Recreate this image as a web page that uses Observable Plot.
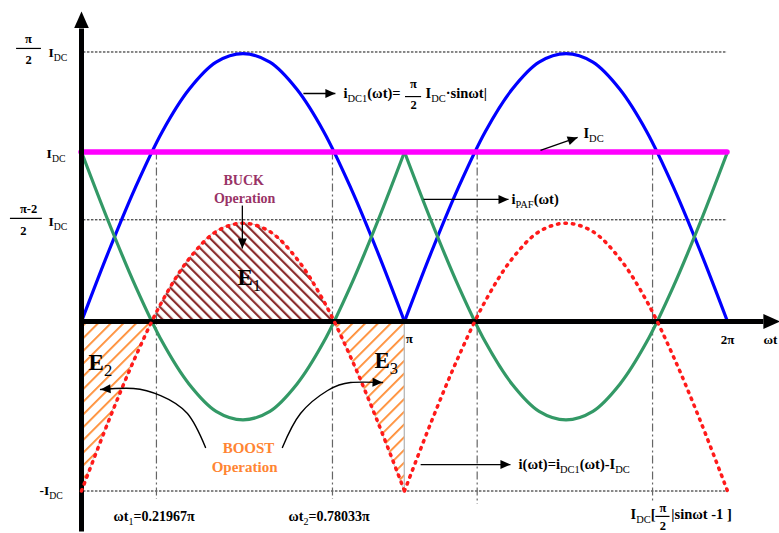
<!DOCTYPE html>
<html><head><meta charset="utf-8">
<script src="https://cdn.jsdelivr.net/npm/d3@7"></script>
<script src="https://cdn.jsdelivr.net/npm/@observablehq/plot@0.6"></script>
<style>body{margin:0;background:#fff}</style>
</head><body><div id="chart"></div>
<script>
// ωt in units of π, sampled every π/12
const wt = [0,0.0833,0.1667,0.25,0.3333,0.4167,0.5,0.5833,0.6667,0.75,0.8333,0.9167,1,
            1.0833,1.1667,1.25,1.3333,1.4167,1.5,1.5833,1.6667,1.75,1.8333,1.9167,2];
// i_DC1(ωt) (blue), in units of I_DC
const iDC1 = [0,0.41,0.79,1.12,1.37,1.53,1.58,1.53,1.37,1.12,0.79,0.41,0,
              0.41,0.79,1.12,1.37,1.53,1.58,1.53,1.37,1.12,0.79,0.41,0];
// i_PAF(ωt) (green)
const iPAF = [1,0.59,0.21,-0.12,-0.37,-0.53,-0.58,-0.53,-0.37,-0.12,0.21,0.59,1,
              0.59,0.21,-0.12,-0.37,-0.53,-0.58,-0.53,-0.37,-0.12,0.21,0.59,1];
// i(ωt) = i_DC1 - I_DC (red dotted)
const iDiff = [-1,-0.59,-0.21,0.12,0.37,0.53,0.58,0.53,0.37,0.12,-0.21,-0.59,-1,
               -0.59,-0.21,0.12,0.37,0.53,0.58,0.53,0.37,0.12,-0.21,-0.59,-1];
const idcLevel = [1];
const crossings = [0.21967, 0.78033];            // ωt1, ωt2 (×π)
const guideLevels = [1.59, 0.60, -1.0];           // π/2·I_DC, (π-2)/2·I_DC, -I_DC
const vLineAt = [0.232, 0.777, 1.225, 1.768];
const vLineEnd = [-1.05, -1.05, -1.08, -1.06];

// annotation texts (positions in data units: x in π, y in I_DC)
const leftText = ["I_{DC}", "I_{DC}", "I_{DC}", "-I_{DC}"];
const leftX = [-0.102, -0.108, -0.102, -0.130];
const leftY = [1.587, 0.991, 0.590, -0.997];
const fracText = ["π", "2", "π-2", "2", "π", "2", "π", "2"];
const fracX = [-0.164, -0.164, -0.164, -0.180, 1.028, 1.028, 1.800, 1.800];
const fracY = [1.664, 1.540, 0.661, 0.531, 1.404, 1.280, -1.100, -1.204];
const barX1 = [-0.201, -0.220, 1.003, 1.778];
const barX2 = [-0.124, -0.121, 1.053, 1.822];
const barY = [1.611, 0.608, 1.327, -1.150];
const tickText = ["π", "2π", "ωt"];
const tickX = [1.015, 2.0, 2.133];
const tickY = [-0.100, -0.106, -0.106];
const bottomText = ["ωt_{1}=0.21967π", "ωt_{2}=0.78033π"];
const bottomX = [0.099, 0.641];
const bottomY = [-1.150, -1.150];
const exprText = ["i_{DC1}(ωt)=", "I_{DC}·sinωt|", "I_{DC}", "i_{PAF}(ωt)", "i(ωt)=i_{DC1}(ωt)-I_{DC}", "I_{DC}[", "|sinωt -1 ]"];
const exprX = [0.811, 1.065, 1.554, 1.331, 1.353, 1.700, 1.826];
const exprY = [1.345, 1.345, 1.109, 0.720, -0.844, -1.138, -1.138];
const eText = ["E_{1}", "E_{2}", "E_{3}"];
const eX = [0.483, 0.022, 0.907];
const eY = [0.260, -0.242, -0.230];
const buckText = ["BUCK", "Operation"];
const buckX = [0.502, 0.505];
const buckY = [0.832, 0.726];
const boostText = ["BOOST", "Operation"];
const boostX = [0.517, 0.505];
const boostY = [-0.749, -0.861];
const arrowX1 = [0.498, 0.687, 1.421, 1.059, 1.050];
const arrowY1 = [0.684, 1.345, 1.009, 0.720, -0.844];
const arrowX2 = [0.498, 0.786, 1.536, 1.322, 1.328];
const arrowY2 = [0.431, 1.345, 1.086, 0.720, -0.844];
const curveArrowX = [[0.384,0.328,0.245,0.161,0.059],[0.622,0.678,0.762,0.833,0.932]];
const curveArrowY = [[-0.743,-0.543,-0.437,-0.395,-0.401],[-0.743,-0.543,-0.407,-0.360,-0.360]];
const axisXEnd = [2.111];
const axisYRange = [-1.239, 1.729];

// build tables
const rows = wt.map((t, i) => ({t, blue: iDC1[i], green: iPAF[i], red: iDiff[i]}));
const halves = rows.flatMap((r, i) => i === 12 ? [{...r, half: 0}, {...r, half: 1}] : [{...r, half: i < 12 ? 0 : 1}]);
const [c1, c2] = crossings;
const e2 = [...rows.filter(r => r.t < c1).map(r => ({t: r.t, v: r.red})), {t: c1, v: 0}];
const e1 = [{t: c1, v: 0}, ...rows.filter(r => r.t > c1 && r.t < c2).map(r => ({t: r.t, v: r.red})), {t: c2, v: 0}];
const e3 = [{t: c2, v: 0}, ...rows.filter(r => r.t > c2 && r.t <= 1).map(r => ({t: r.t, v: r.red}))];
const zip = (a, b, c) => a.map((s, i) => ({s, x: b[i], y: c[i]}));
const vLines = vLineAt.map((x, i) => ({x, y2: vLineEnd[i]}));
const bars = barY.map((y, i) => ({y, x1: barX1[i], x2: barX2[i]}));
const arrows = arrowX1.map((x1, i) => ({x1, y1: arrowY1[i], x2: arrowX2[i], y2: arrowY2[i]}));
const curved = curveArrowX.flatMap((xs, k) => xs.map((x, j) => ({k, x, y: curveArrowY[k][j]})));

const serif = "Liberation Serif, Times New Roman, serif";
const AXIS_INK = "#000001", ARROW_INK = "#010101";
const txt = (data, o) => Plot.text(data, {x: "x", y: "y", text: "s", fontFamily: serif, fontWeight: "bold", lineAnchor: "middle", ...o});

const plot = Plot.plot({
  width: 779, height: 533,
  marginLeft: 81, marginRight: 52, marginTop: 0, marginBottom: 0,
  x: {domain: [0, 2], axis: null},
  y: {domain: [-212 / 169.5, 321 / 169.5], axis: null},
  style: {background: "white", overflow: "visible"},
  marks: [
    Plot.ruleY(guideLevels, {x1: 0.006, x2: 2, stroke: "#111", strokeWidth: 1, strokeDasharray: "2.5,1.5"}),
    Plot.areaY(e1, {x: "t", y1: 0, y2: "v", curve: "catmull-rom", fill: "url(#hatchE1)", stroke: "#c0b0b0", strokeWidth: 0.8}),
    Plot.areaY(e2, {x: "t", y1: 0, y2: "v", curve: "catmull-rom", fill: "url(#hatchE2)", stroke: "#c0c0c0", strokeWidth: 0.8}),
    Plot.areaY(e3, {x: "t", y1: 0, y2: "v", curve: "catmull-rom", fill: "url(#hatchE2)", stroke: "#c0c0c0", strokeWidth: 0.8}),
    Plot.ruleX([1], {y1: 0, y2: -1, stroke: "#bbb", strokeWidth: 1}),
    Plot.ruleX(vLines, {x: "x", y1: 1, y2: "y2", stroke: "#666", strokeWidth: 1.2, strokeDasharray: "8,3,2,3"}),
    Plot.line(halves, {x: "t", y: "blue", z: "half", curve: "catmull-rom", stroke: "#0000ff", strokeWidth: 3.2}),
    Plot.line(halves, {x: "t", y: "green", z: "half", curve: "catmull-rom", stroke: "#339966", strokeWidth: 3.2}),
    Plot.ruleY(idcLevel, {x1: 0, x2: 2, stroke: "#ff00ff", strokeWidth: 5.5, strokeLinecap: "round"}),
    Plot.link(axisXEnd, {x1: 0, x2: d => d, y1: 0, y2: 0, stroke: AXIS_INK, strokeWidth: 5}),
    Plot.link([axisYRange], {x1: 0, x2: 0, y1: d => d[0], y2: d => d[1], stroke: AXIS_INK, strokeWidth: 5}),
    Plot.line(halves, {x: "t", y: "red", z: "half", curve: "catmull-rom", stroke: "#ff1a1a", strokeWidth: 3.5, strokeDasharray: "1.5,6", strokeLinecap: "round"}),
    Plot.ruleY(bars, {y: "y", x1: "x1", x2: "x2", stroke: "#000", strokeWidth: 1.2}),
    txt(zip(leftText, leftX, leftY), {textAnchor: "start", fontSize: 13.5}),
    txt(zip(fracText, fracX, fracY), {textAnchor: "middle", fontSize: 12.5}),
    txt(zip(tickText, tickX, tickY), {textAnchor: "middle", fontSize: 13}),
    txt(zip(bottomText, bottomX, bottomY), {textAnchor: "start", fontSize: 14}),
    txt(zip(exprText, exprX, exprY), {textAnchor: "start", fontSize: 14.5}),
    txt(zip(eText, eX, eY), {textAnchor: "start", fontSize: 23}),
    txt(zip(buckText, buckX, buckY), {textAnchor: "middle", fontSize: 14, fill: "#993366"}),
    txt(zip(boostText, boostX, boostY), {textAnchor: "middle", fontSize: 15, fill: "#ff8533"}),
    Plot.link(arrows, {x1: "x1", y1: "y1", x2: "x2", y2: "y2", stroke: ARROW_INK, strokeWidth: 1.3}),
    Plot.line(curved, {x: "x", y: "y", z: "k", curve: "natural", stroke: ARROW_INK, strokeWidth: 1.4})
  ]
});
document.getElementById("chart").appendChild(plot);

// defs: hatch patterns and filled arrowheads
const svg = d3.select(plot);
const defs = svg.insert("defs", ":first-child");
function hatch(id, color, size, w, angle) {
  const p = defs.append("pattern").attr("id", id).attr("patternUnits", "userSpaceOnUse")
    .attr("width", size).attr("height", size).attr("patternTransform", `rotate(${angle})`);
  p.append("rect").attr("x", 0).attr("y", 0).attr("width", w).attr("height", size).attr("fill", color);
}
hatch("hatchE1", "#8b2e2e", 7, 2.2, -45);
hatch("hatchE2", "#ff8c33", 9, 1.8, 45);
function marker(id, d, vb, w, h) {
  defs.append("marker").attr("id", id).attr("viewBox", vb).attr("markerWidth", w).attr("markerHeight", h)
    .attr("markerUnits", "userSpaceOnUse").attr("refX", 0).attr("refY", 0).attr("orient", "auto")
    .append("path").attr("d", d).attr("fill", "#000");
}
marker("axHead", "M0,-7.5L17,0L0,7.5Z", "0 -9 18 18", 18, 18);
marker("smHead", "M-10,-4.5L0,0L-10,4.5Z", "-11 -5.5 12 11", 12, 11);
svg.selectAll("path").each(function () {
  let el = this, s = null;
  while (el && el !== plot && !s) { s = el.getAttribute && el.getAttribute("stroke"); el = el.parentNode; }
  if (!s) return;
  s = s.toLowerCase();
  if (s === AXIS_INK) this.setAttribute("marker-end", "url(#axHead)");
  else if (s === ARROW_INK) this.setAttribute("marker-end", "url(#smHead)");
});

// subscripts: "_{...}"
svg.selectAll("text").each(function () {
  const t = this.textContent;
  if (!t.includes("_{")) return;
  const fs = parseFloat(getComputedStyle(this).fontSize);
  const parts = t.split(/(_\{[^}]*\})/).filter(s => s);
  this.textContent = "";
  const shift = fs * 0.28;
  let down = false;
  for (const p of parts) {
    const ts = document.createElementNS("http://www.w3.org/2000/svg", "tspan");
    if (p.startsWith("_{")) {
      ts.textContent = p.slice(2, -1);
      ts.setAttribute("font-size", fs * 0.72);
      ts.setAttribute("font-weight", "normal");
      if (!down) { ts.setAttribute("dy", shift); down = true; }
    } else {
      ts.textContent = p;
      if (down) { ts.setAttribute("dy", -shift); down = false; }
    }
    this.appendChild(ts);
  }
});
</script>
</body></html>
